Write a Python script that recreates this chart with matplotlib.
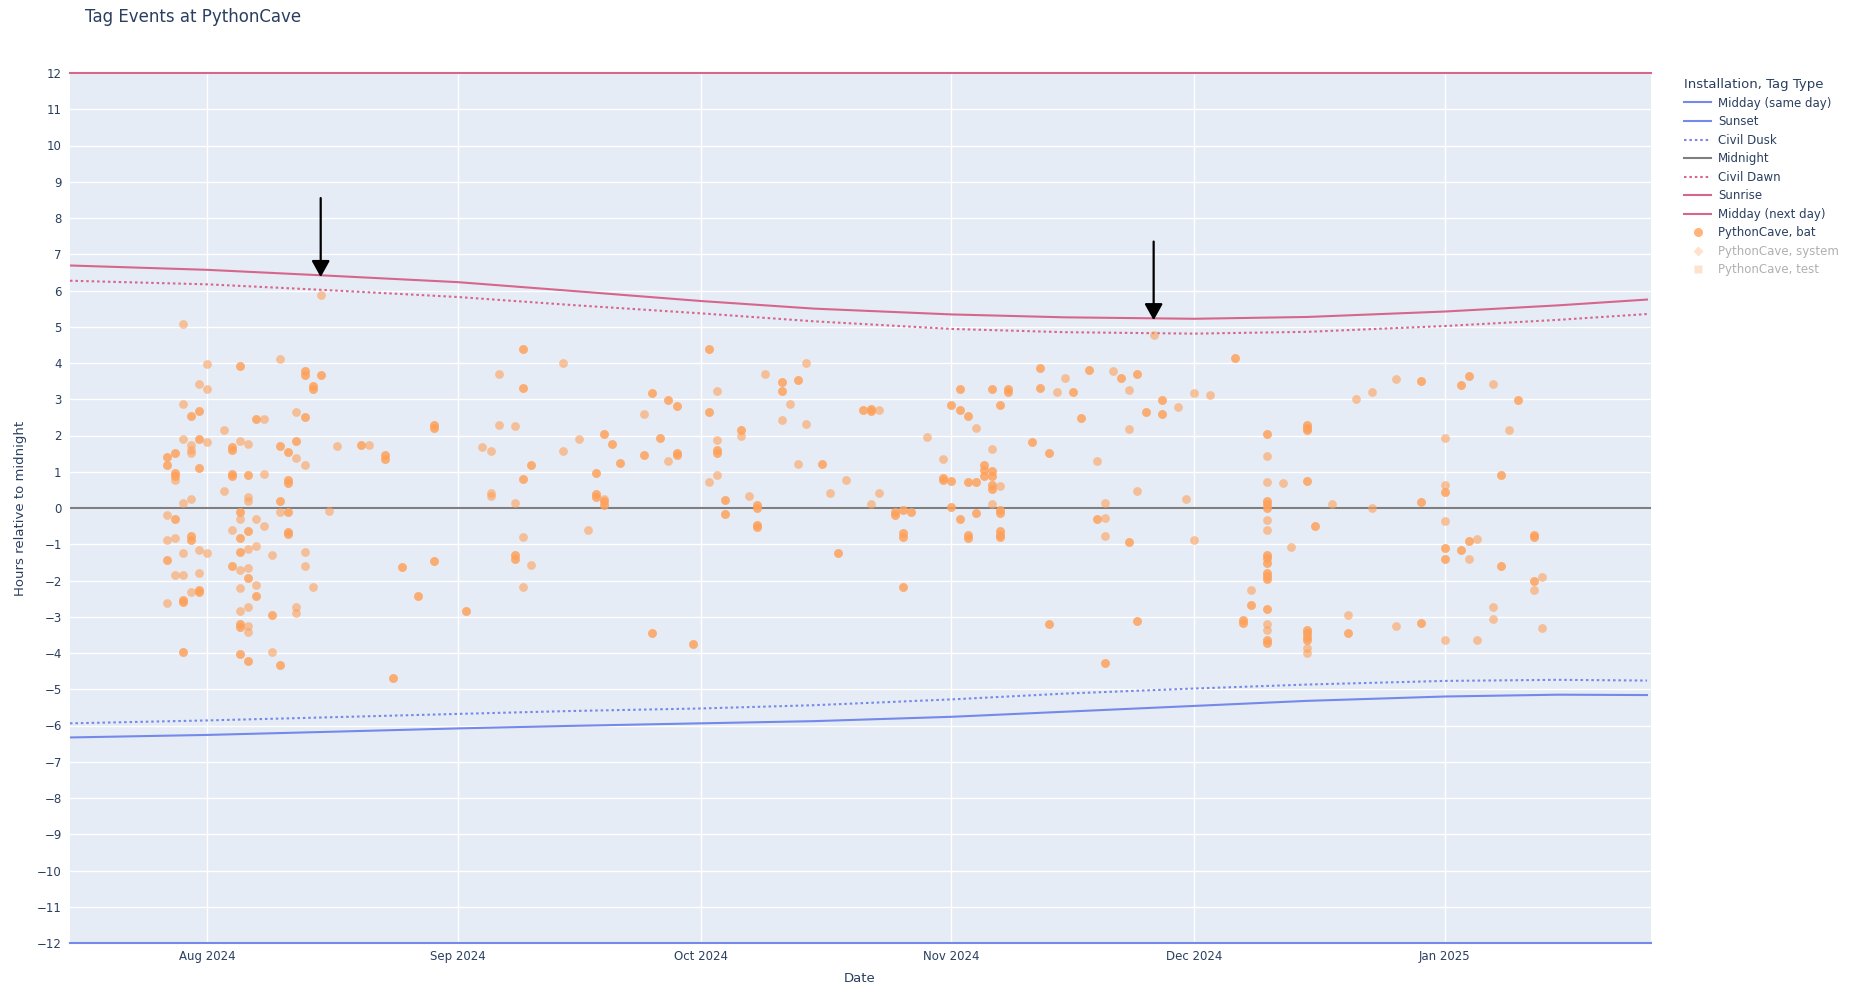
import datetime as dt
import matplotlib
matplotlib.use("Agg")
import matplotlib.pyplot as plt
import matplotlib.dates as mdates
from matplotlib.lines import Line2D

# ------------------------------------------------------------------
# Data
# ------------------------------------------------------------------

# sun curves, hours relative to midnight
sun_dates = [
    "2024-07-15", "2024-08-01", "2024-08-15", "2024-09-01", "2024-09-15",
    "2024-10-01", "2024-10-15", "2024-11-01", "2024-11-15", "2024-12-01",
    "2024-12-15", "2025-01-01", "2025-01-15", "2025-01-26",
]
sunrise = [6.69, 6.57, 6.42, 6.23, 5.99, 5.71, 5.50, 5.34, 5.26, 5.22,
           5.27, 5.42, 5.59, 5.75]
civil_dawn = [6.27, 6.17, 6.02, 5.82, 5.60, 5.37, 5.15, 4.94, 4.85, 4.81,
              4.86, 5.02, 5.19, 5.35]
sunset = [-6.33, -6.26, -6.18, -6.08, -6.01, -5.94, -5.88, -5.76, -5.62,
          -5.46, -5.32, -5.20, -5.15, -5.16]
civil_dusk = [-5.94, -5.86, -5.78, -5.68, -5.60, -5.53, -5.44, -5.28, -5.12,
              -4.98, -4.87, -4.77, -4.74, -4.76]

# bat tag events: night date and hours relative to midnight
# (repeated values are events that sit on top of each other)
bat_dates = [
    "2024-07-27", "2024-07-28", "2024-07-29", "2024-07-30", "2024-07-31",
    "2024-08-01", "2024-08-03", "2024-08-04", "2024-08-05", "2024-08-06",
    "2024-08-07", "2024-08-08", "2024-08-09", "2024-08-10", "2024-08-11",
    "2024-08-12", "2024-08-13", "2024-08-14", "2024-08-15", "2024-08-16",
    "2024-08-17", "2024-08-20", "2024-08-21", "2024-08-23", "2024-08-24",
    "2024-08-25", "2024-08-27", "2024-08-29", "2024-09-02", "2024-09-04",
    "2024-09-05", "2024-09-06", "2024-09-08", "2024-09-09", "2024-09-10",
    "2024-09-14", "2024-09-16", "2024-09-17", "2024-09-18", "2024-09-19",
    "2024-09-20", "2024-09-21", "2024-09-24", "2024-09-25", "2024-09-26",
    "2024-09-27", "2024-09-28", "2024-09-30", "2024-10-02", "2024-10-03",
    "2024-10-04", "2024-10-06", "2024-10-07", "2024-10-08", "2024-10-09",
    "2024-10-11", "2024-10-12", "2024-10-13", "2024-10-14", "2024-10-16",
    "2024-10-17", "2024-10-18", "2024-10-19", "2024-10-21", "2024-10-22",
    "2024-10-23", "2024-10-25", "2024-10-26", "2024-10-27", "2024-10-29",
    "2024-10-31", "2024-11-01", "2024-11-02", "2024-11-03", "2024-11-04",
    "2024-11-05", "2024-11-06", "2024-11-07", "2024-11-08", "2024-11-11",
    "2024-11-12", "2024-11-13", "2024-11-14", "2024-11-15", "2024-11-16",
    "2024-11-17", "2024-11-18", "2024-11-19", "2024-11-20", "2024-11-21",
    "2024-11-22", "2024-11-23", "2024-11-24", "2024-11-25", "2024-11-26",
    "2024-11-27", "2024-11-29", "2024-11-30", "2024-12-01", "2024-12-03",
    "2024-12-06", "2024-12-07", "2024-12-08", "2024-12-10", "2024-12-12",
    "2024-12-13", "2024-12-15", "2024-12-16", "2024-12-18", "2024-12-20",
    "2024-12-21", "2024-12-23", "2024-12-26", "2024-12-29", "2025-01-01",
    "2025-01-03", "2025-01-04", "2025-01-05", "2025-01-07", "2025-01-08",
    "2025-01-09", "2025-01-10", "2025-01-12", "2025-01-13",
]
bat_hours = [
    [1.41, 1.41, 1.18, 1.18, -0.18, -0.89, -1.43, -1.43, -2.61],
    [1.52, 1.52, 0.97, 0.97, 0.87, 0.87, 0.76, -0.30, -0.30, -0.83, -1.84],
    [5.08, 2.86, 1.89, 0.15, -1.24, -1.86, -2.53, -2.53, -2.60, -2.60, -3.96, -3.96],
    [2.54, 2.54, 1.73, 1.61, 1.52, 0.25, -0.78, -0.78, -0.87, -0.87, -2.31],
    [3.42, 2.67, 2.67, 1.89, 1.89, 1.10, 1.10, -1.15, -1.78, -2.26, -2.26, -2.31, -2.31],
    [3.98, 3.29, 1.82, -1.24],
    [2.14, 0.48],
    [1.68, 1.68, 1.59, 1.59, 0.95, 0.95, 0.87, 0.87, -0.60, -1.61, -1.61],
    [3.91, 3.91, 1.86, -0.11, -0.11, -0.30, -0.83, -0.83, -1.22, -1.22, -1.72,
     -2.20, -2.83, -3.20, -3.20, -3.27, -3.27, -4.02, -4.02],
    [1.77, 0.92, 0.92, 0.30, 0.18, -0.63, -0.63, -1.12, -1.66, -1.94, -1.94,
     -2.74, -3.25, -3.41, -4.21, -4.21],
    [2.46, 2.46, -0.29, -1.04, -2.12, -2.42, -2.42],
    [2.46, 0.95, -0.49],
    [-1.31, -2.96, -2.96, -3.98],
    [4.12, 1.72, 1.72, 0.18, 0.18, -0.11, -4.33, -4.33],
    [1.55, 1.55, 0.76, 0.76, 0.69, 0.69, -0.11, -0.11, -0.67, -0.67, -0.71, -0.71],
    [2.66, 1.86, 1.86, 1.37, -2.72, -2.90],
    [3.79, 3.79, 3.68, 3.68, 2.50, 2.50, 1.19, -1.21, -1.59],
    [3.36, 3.36, 3.27, 3.27, -2.19],
    [5.88, 3.66, 3.66],
    [-0.09],
    [1.72],
    [1.73, 1.73],
    [1.73],
    [1.47, 1.47, 1.35, 1.35],
    [-4.68, -4.68],
    [-1.63, -1.63],
    [-2.44, -2.44],
    [2.30, 2.30, 2.21, 2.21, -1.45, -1.45],
    [-2.85, -2.85],
    [1.68],
    [1.57, 0.41, 0.32],
    [3.69, 2.29],
    [2.25, 0.14, -1.31, -1.31, -1.40, -1.40],
    [4.39, 4.39, 3.30, 3.30, 0.81, 0.81, -0.80, -2.19],
    [1.18, 1.18, -1.57],
    [4.00, 1.57],
    [1.91],
    [-0.60],
    [0.97, 0.97, 0.39, 0.39, 0.30, 0.30],
    [2.03, 2.03, 0.25, 0.18, 0.18, 0.09, 0.09],
    [1.76, 1.76],
    [1.25, 1.25],
    [2.60, 1.45, 1.45],
    [3.18, 3.18, -3.45, -3.45],
    [1.92, 1.92],
    [2.99, 2.99, 1.29],
    [2.81, 2.81, 1.52, 1.52, 1.47, 1.47],
    [-3.76, -3.76],
    [4.39, 4.39, 2.64, 2.64, 0.72],
    [3.24, 1.88, 1.59, 1.59, 1.52, 1.52, 0.90],
    [0.22, 0.22, -0.17, -0.17],
    [2.14, 2.14, 2.00],
    [0.32],
    [0.07, 0.07, 0.00, 0.00, -0.46, -0.46, -0.52, -0.52],
    [3.69],
    [3.48, 3.48, 3.24, 3.24, 2.42],
    [2.86],
    [3.53, 3.53, 1.21],
    [4.00, 2.31],
    [1.21, 1.21],
    [0.42],
    [-1.24, -1.24],
    [0.77],
    [2.70, 2.70],
    [2.73, 2.73, 2.67, 2.67, 0.11],
    [2.70, 0.42],
    [-0.11, -0.11, -0.18, -0.18],
    [-0.05, -0.05, -0.69, -0.69, -0.80, -0.80, -2.18, -2.18],
    [-0.11, -0.11],
    [1.97],
    [1.36, 0.83, 0.83, 0.76, 0.76],
    [2.83, 2.83, 0.74, 0.74, 0.04, 0.04],
    [3.27, 3.27, 2.70, 2.70, -0.30, -0.30],
    [2.55, 2.55, 0.71, 0.71, -0.74, -0.74, -0.83, -0.83],
    [2.21, 0.71, 0.71, -0.14, -0.14],
    [1.18, 1.18, 1.06, 1.06, 0.89, 0.89],
    [3.27, 3.27, 1.63, 1.01, 1.01, 0.87, 0.87, 0.64, 0.64, 0.52, 0.52, 0.12],
    [2.84, 2.84, 0.62, -0.06, -0.06, -0.14, -0.14, -0.64, -0.64, -0.74, -0.74,
     -0.80, -0.80],
    [3.27, 3.27, 3.20, 3.20],
    [1.81, 1.81],
    [3.87, 3.87, 3.30, 3.30],
    [1.52, 1.52, -3.20, -3.20],
    [3.20],
    [3.60],
    [3.20, 3.20],
    [2.47, 2.47],
    [3.80, 3.80],
    [1.29, -0.29, -0.29],
    [0.14, -0.27, -0.76, -4.28, -4.28],
    [3.79],
    [3.60, 3.60],
    [3.26, 2.17, -0.94, -0.94],
    [3.69, 3.69, 0.48, -3.13, -3.13],
    [2.64, 2.64],
    [4.76],
    [2.97, 2.97, 2.59, 2.59],
    [2.80],
    [0.25],
    [3.17, -0.87],
    [3.12],
    [4.15, 4.15],
    [-3.08, -3.08, -3.16, -3.16],
    [-2.25, -2.67, -2.67],
    [2.05, 2.05, 1.43, 0.72, 0.20, 0.20, 0.12, 0.12, 0.00, 0.00, -0.32, -0.60,
     -1.29, -1.29, -1.38, -1.38, -1.52, -1.52, -1.78, -1.78, -1.87, -1.87,
     -1.96, -1.96, -2.79, -2.79, -3.20, -3.36, -3.64, -3.64, -3.73, -3.73],
    [0.69],
    [-1.08],
    [2.30, 2.30, 2.21, 2.21, 2.14, 2.14, 0.74, 0.74, -3.36, -3.36, -3.45, -3.45,
     -3.55, -3.55, -3.64, -3.64, -3.87, -4.00],
    [-0.51, -0.51],
    [0.11],
    [-2.96, -3.45, -3.45],
    [3.01],
    [3.21, 0.01],
    [3.57, -3.25],
    [3.49, 3.49, 0.17, 0.17, -3.16, -3.16],
    [1.93, 0.63, 0.44, 0.44, -0.35, -1.11, -1.11, -1.41, -1.41, -3.65],
    [3.39, 3.39, -1.15, -1.15],
    [3.63, 3.63, -0.92, -0.92, -1.41],
    [-0.86, -3.65],
    [3.43, -2.72, -3.07],
    [0.90, 0.90, -1.61, -1.61],
    [2.15],
    [2.97, 2.97],
    [-0.74, -0.74, -0.80, -0.80, -2.00, -2.00, -2.26],
    [-1.91, -3.31],
]

# arrows: (date, tail hours, tip hours)
arrow_dates = ["2024-08-15", "2024-11-26"]
arrow_tail = [8.55, 7.35]
arrow_tip = [6.37, 5.18]

x_start = "2024-07-15"
x_end = "2025-01-26 12:00"

legend_title = "Installation, Tag Type"


# ------------------------------------------------------------------
# Style
# ------------------------------------------------------------------
plt.rcParams["font.family"] = ["DejaVu Sans"]
text_color = "#2a3f5f"
bg_color = "#E5ECF6"
blue = "#7489ea"
pink = "#d6668c"
grey = "#7f7f7f"
orange = "#FFA15A"


def to_dt(s):
    return dt.datetime.fromisoformat(s)


sun_x = [to_dt(s) for s in sun_dates]
x0, x1 = to_dt(x_start), to_dt(x_end)

W, H = 1858, 990
fig = plt.figure(figsize=(W / 100, H / 100), dpi=100)
ax = fig.add_axes([70 / W, 1 - 943 / H, (1651 - 70) / W, (943 - 73) / H])
ax.set_facecolor(bg_color)

# reference lines
lw = 1.5
ax.plot([x0, x1], [-12, -12], color=blue, lw=lw, clip_on=False, zorder=3,
        label="Midday (same day)")
ax.plot(sun_x, sunset, color=blue, lw=lw, zorder=3, label="Sunset")
ax.plot(sun_x, civil_dusk, color=blue, lw=lw, ls=(0, (1.2, 1.4)), zorder=3,
        label="Civil Dusk")
ax.plot([x0, x1], [0, 0], color=grey, lw=lw, zorder=3, label="Midnight")
ax.plot(sun_x, civil_dawn, color=pink, lw=lw, ls=(0, (1.2, 1.4)), zorder=3,
        label="Civil Dawn")
ax.plot(sun_x, sunrise, color=pink, lw=lw, zorder=3, label="Sunrise")
ax.plot([x0, x1], [12, 12], color=pink, lw=lw, clip_on=False, zorder=3,
        label="Midday (next day)")

# bat events
ev_x, ev_y = [], []
for d, hrs in zip(bat_dates, bat_hours):
    for h in hrs:
        ev_x.append(to_dt(d))
        ev_y.append(h)
ax.scatter(ev_x, ev_y, s=40, color=orange, alpha=0.6, linewidths=0, zorder=4)

# arrows
for d, y0, y1 in zip(arrow_dates, arrow_tail, arrow_tip):
    ax.annotate("", xy=(to_dt(d), y1), xytext=(to_dt(d), y0),
                arrowprops=dict(arrowstyle="-|>,head_length=0.9,head_width=0.5",
                                mutation_scale=11, color="black", lw=1.6,
                                shrinkA=0, shrinkB=0),
                zorder=6)

# axes
ax.set_xlim(x0, x1)
ax.set_ylim(-12, 12)
ax.set_yticks(range(-12, 13))
ax.xaxis.set_major_locator(mdates.MonthLocator())
ax.xaxis.set_major_formatter(mdates.DateFormatter("%b %Y"))
ax.grid(True, color="white", lw=1.0, zorder=0)
ax.set_axisbelow(True)
for sp in ax.spines.values():
    sp.set_visible(False)
ax.tick_params(axis="both", length=0, labelsize=8.5, labelcolor=text_color)
ax.tick_params(axis="y", pad=6)
ax.tick_params(axis="x", pad=5)

fig.text(85 / W, 1 - 17 / H, "Tag Events at PythonCave", fontsize=12,
         color=text_color, va="center", ha="left")
fig.text(21 / W, 1 - 508 / H, "Hours relative to midnight", rotation=90,
         fontsize=9.5, color=text_color, va="center", ha="center")
fig.text(860 / W, 1 - 979 / H, "Date", fontsize=9.5, color=text_color,
         va="center", ha="center")

# legend
handles, labels = ax.get_legend_handles_labels()
handles += [
    Line2D([], [], ls="none", marker="o", ms=6.5, mfc=orange, mec="none", alpha=0.8),
    Line2D([], [], ls="none", marker="D", ms=5, mfc=orange, mec="none", alpha=0.3),
    Line2D([], [], ls="none", marker="s", ms=5.5, mfc=orange, mec="none", alpha=0.3),
]
labels += ["PythonCave, bat", "PythonCave, system", "PythonCave, test"]
leg = fig.legend(handles, labels, title=legend_title, loc="upper left",
                 bbox_to_anchor=(1684 / W, 1 - 78 / H), frameon=False,
                 fontsize=8.5, title_fontsize=9.5, handlelength=2.3,
                 handletextpad=0.6, labelspacing=0.47, borderpad=0,
                 borderaxespad=0)
leg._legend_box.align = "left"
leg.get_title().set_color(text_color)
for i, t in enumerate(leg.get_texts()):
    t.set_color("#b0b0b0" if i >= 8 else text_color)

fig.savefig("out.png", dpi=100)
